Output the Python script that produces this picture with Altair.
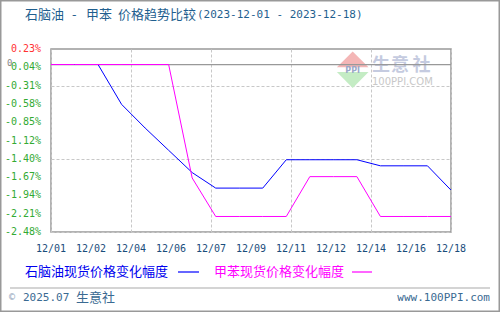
import altair as alt
import pandas as pd

# ---------------- data ----------------
dates = ["2023-12-%02d" % d for d in range(1, 19)]
naphtha = [0, 0, 0, -0.59, -0.94, -1.27, -1.60, -1.83, -1.83, -1.83,
           -1.41, -1.41, -1.41, -1.41, -1.50, -1.50, -1.50, -1.86]
toluene = [0, 0, 0, 0, 0, 0, -1.68, -2.25, -2.25, -2.25,
           -2.25, -1.66, -1.66, -1.66, -2.25, -2.25, -2.25, -2.25]
series_names = ["石脑油现货价格变化幅度", "甲苯现货价格变化幅度"]

x_ticks = [1, 2.7, 4.4, 6.1, 7.8, 9.5, 11.2, 12.9, 14.6, 16.3, 18]
x_labels = ["12/01", "12/02", "12/04", "12/06", "12/07", "12/09",
            "12/11", "12/12", "12/14", "12/16", "12/18"]
y_ticks = [-2.48, -2.209, -1.938, -1.667, -1.396, -1.125, -0.854,
           -0.583, -0.312, -0.041, 0.23]
y_labels = ["-2.48%", "-2.21%", "-1.94%", "-1.67%", "-1.40%", "-1.12%",
            "-0.85%", "-0.58%", "-0.31%", "0.04%", "0.23%"]

# ---------------- layout ----------------
L, T, W, H = 51, 49, 400, 183
CJK = "Noto Sans CJK SC"
MONO = "DejaVu Sans Mono"

days = [int(d[-2:]) for d in dates]
df = pd.DataFrame({
    "day": days * 2,
    "val": naphtha + toluene,
    "series": [series_names[0]] * len(days) + [series_names[1]] * len(days),
})

xs = alt.Scale(domain=[1, 18], nice=False, zero=False)
ys = alt.Scale(domain=[-2.48, 0.23], nice=False, zero=False)

grid_axis_x = alt.Axis(values=x_ticks, labels=False, ticks=False, domain=False,
                       grid=True, gridDash=[3, 2], gridColor="#c8c8c8", title=None)
grid_axis_y = alt.Axis(values=y_ticks, labels=False, ticks=False, domain=False,
                       grid=True, gridDash=[3, 2], gridColor="#c8c8c8", title=None)

lines = alt.Chart(df).mark_line(strokeWidth=1, clip=True).encode(
    x=alt.X("day:Q", scale=xs, axis=grid_axis_x),
    y=alt.Y("val:Q", scale=ys, axis=grid_axis_y),
    color=alt.Color("series:N", scale=alt.Scale(domain=series_names,
                                                range=["#0000ff", "#ff00ff"]),
                    legend=None),
    order=alt.Order("day:Q"),
)

zero = alt.Chart(pd.DataFrame({"z": [0]})).mark_rule(color="#999999", strokeWidth=1.2).encode(
    y=alt.Y("z:Q", scale=ys)
)

xlab = alt.Chart(pd.DataFrame({"v": x_ticks, "t": x_labels})).mark_text(
    font=MONO, fontSize=10, color="#1a4d7c", baseline="middle", align="center"
).encode(x=alt.X("v:Q", scale=xs), y=alt.value(249 - T), text="t:N")

ylab = alt.Chart(pd.DataFrame({"v": y_ticks, "t": y_labels})).mark_text(
    font=MONO, fontSize=10, baseline="middle", align="right"
).encode(
    y=alt.Y("v:Q", scale=ys), x=alt.value(41 - L), text="t:N",
    color=alt.condition("datum.v > 0.2", alt.value("#ff3333"), alt.value("#33aa33")),
)


def label(text, x, y, size, color, font, align="left", weight="normal", baseline="middle"):
    return alt.Chart(pd.DataFrame({"t": [text]})).mark_text(
        align=align, baseline=baseline, fontSize=size, color=color, font=font,
        fontWeight=weight
    ).encode(x=alt.value(x - L), y=alt.value(y - T), text="t:N")


def hrule(x1, x2, y, color, width=1.0):
    return alt.Chart(pd.DataFrame({"a": [0]})).mark_rule(color=color, strokeWidth=width).encode(
        x=alt.value(x1 - L), x2=alt.value(x2 - L), y=alt.value(y - T))


title_col = "#1f5f8f"
title = [
    label("石脑油", 25, 15, 13, title_col, CJK),
    label("-", 72, 15, 13, title_col, CJK),
    label("甲苯", 86, 15, 13, title_col, CJK),
    label("价格趋势比较", 118, 15, 13, title_col, CJK),
    label("(2023-12-01 - 2023-12-18)", 197, 15, 11, title_col, MONO),
]

legend = [
    label(series_names[0], 25, 272, 13, "#0000ee", CJK),
    hrule(178, 199, 272, "#0000ff", 1.2),
    label(series_names[1], 214, 272, 13, "#ff00ff", CJK),
    hrule(352, 372, 272, "#ff00ff", 1.2),
]

footer_col = "#3a6a92"
footer = [
    hrule(10, 490, 288, "#aaaaaa", 1.2),
    label("©", 9, 297, 10, "#8aa0b8", MONO),
    label("2025.07", 23, 298, 11, footer_col, MONO),
    label("生意社", 76, 298, 13, footer_col, CJK),
    label("www.100PPI.com", 490, 298, 11, footer_col, MONO, align="right"),
]

zero_mark = label("0", 7, 63, 9, "#888888", MONO)

# watermark
tri_up = alt.Chart(pd.DataFrame({"a": [0]})).mark_point(
    shape="M-1,0.5L1,0.5L0,-0.5Z", filled=True, size=1000, color="#f4b6b6", opacity=1
).encode(x=alt.value(352.7 - L), y=alt.value(59.4 - T))
tri_dn = alt.Chart(pd.DataFrame({"a": [0]})).mark_point(
    shape="M-1,-0.5L1,-0.5L0,0.5Z", filled=True, size=1000, color="#c4ecc4", opacity=1
).encode(x=alt.value(352.7 - L), y=alt.value(80 - T))
wm_col = "#c5cbe0"
watermark = [
    tri_up, tri_dn,
    label("PPI", 352.7, 71, 8, "#9aa8c8", "DejaVu Sans", align="center", weight="bold"),
    label("生", 381, 65.5, 18, wm_col, CJK, align="center", weight="bold"),
    label("意", 400, 65.5, 18, wm_col, CJK, align="center", weight="bold"),
    label("社", 421.5, 65.5, 18, wm_col, CJK, align="center", weight="bold"),
    label("100PPI.COM", 372, 81.5, 10, "#c8c8c8", "DejaVu Sans"),
]

border = alt.Chart(pd.DataFrame({"a": [0]})).mark_rect(
    fill=None, stroke="#999999", strokeWidth=1.5
).encode(x=alt.value(0.75 - L), x2=alt.value(499.25 - L),
         y=alt.value(0.75 - T), y2=alt.value(311.25 - T))

chart = alt.layer(
    *watermark, zero, lines, xlab, ylab, zero_mark, *title, *legend, *footer, border
).properties(
    width=W, height=H,
    padding={"left": L, "top": T, "right": 500 - L - W, "bottom": 312 - T - H},
    autosize=alt.AutoSizeParams(type="none"),
    background="white",
).configure_view(
    stroke="#999999", strokeWidth=1.5
)

chart.save("out.html", embed_options={"renderer": "svg", "actions": False})
